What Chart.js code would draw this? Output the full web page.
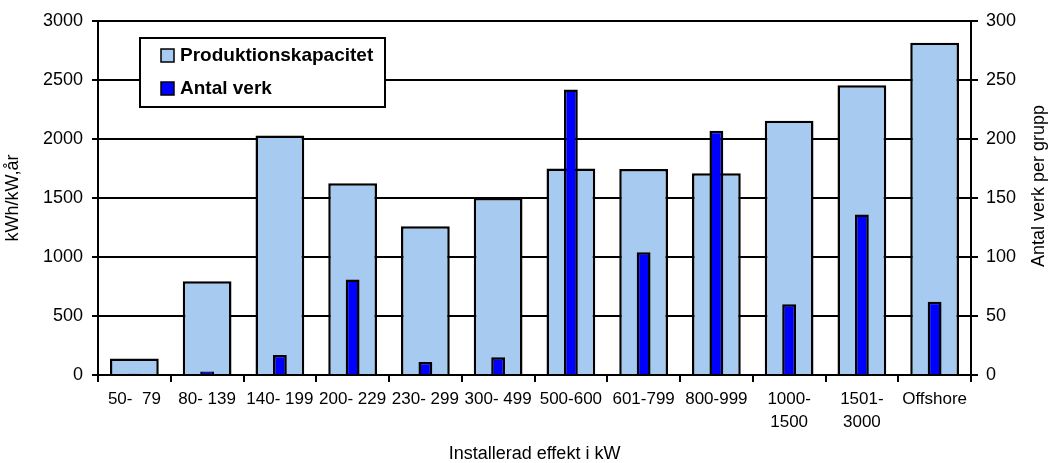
<!DOCTYPE html>
<html>
<head>
<meta charset="utf-8">
<script src="https://cdn.jsdelivr.net/npm/chart.js@4/dist/chart.umd.min.js"></script>
<style>
html, body { margin: 0; padding: 0; background: #fff; }
</style>
</head>
<body>
<canvas id="chart" width="1049" height="463"></canvas>
<script>
'use strict'

// grupper, installerad effekt i kW
const groups = ['50-  79', '80- 139', '140- 199', '200- 229', '230- 299', '300- 499',
    '500-600', '601-799', '800-999', ['1000-', '1500'], ['1501-', '3000'], 'Offshore'];
// produktionskapacitet, kWh/kW,år
const capacity = [140, 795, 2030, 1625, 1260, 1500, 1750, 1745, 1710, 2155, 2455, 2815];
// antal verk per grupp
const plants = [1, 3, 17, 81, 11, 15, 242, 104, 207, 60, 136, 62];
// axlar
const leftTicks = [0, 500, 1000, 1500, 2000, 2500, 3000];
const rightTicks = [0, 50, 100, 150, 200, 250, 300];

const FONT = '"Liberation Sans", Arial, sans-serif';

// legend i ruta + höger axeltitel
const boxLegend = {
    id: 'boxLegend',
    afterDraw(chart) {
        const ctx = chart.ctx;
        ctx.save();
        ctx.fillStyle = '#fff';
        ctx.strokeStyle = '#000';
        ctx.lineWidth = 2;
        ctx.fillRect(140, 38, 245, 69);
        ctx.strokeRect(140, 38, 245, 69);
        ctx.font = 'bold 19px ' + FONT;
        ctx.textBaseline = 'middle';
        chart.data.datasets.forEach((ds, i) => {
            const y = 55 + i * 33;
            ctx.fillStyle = ds.backgroundColor;
            ctx.fillRect(161, y - 6, 13, 13);
            ctx.lineWidth = 1.5;
            ctx.strokeRect(161, y - 6, 13, 13);
            ctx.fillStyle = '#000';
            ctx.fillText(ds.label, 180, y + 1);
        });

        ctx.translate(1039, 186);
        ctx.rotate(-Math.PI / 2);
        ctx.font = '18px ' + FONT;
        ctx.textAlign = 'center';
        ctx.fillText('Antal verk per grupp', 0, 0);
        ctx.restore();
    }
};

new Chart(document.getElementById('chart'), {
    type: 'bar',
    data: {
        labels: groups,
        datasets: [
            {
                label: 'Produktionskapacitet',
                data: capacity,
                yAxisID: 'y',
                backgroundColor: '#A6CAF0',
                borderColor: '#000',
                borderWidth: 2.5,
                barPercentage: 0.67,
                categoryPercentage: 1,
                grouped: false,
                order: 2
            },
            {
                label: 'Antal verk',
                data: plants,
                yAxisID: 'y2',
                backgroundColor: '#0000FF',
                borderColor: '#000',
                borderWidth: 2.5,
                barPercentage: 0.19,
                categoryPercentage: 1,
                grouped: false,
                order: 1
            }
        ]
    },
    options: {
        responsive: false,
        animation: false,
        devicePixelRatio: 1,
        layout: { padding: { top: 21, left: 0, right: 0, bottom: 0 } },
        plugins: {
            legend: { display: false },
            tooltip: { enabled: false }
        },
        scales: {
            x: {
                afterFit: (scale) => { scale.height = 88; },
                grid: { display: true, drawOnChartArea: false, offset: true, color: '#000', lineWidth: 2, tickLength: 7 },
                border: { display: true, color: '#000', width: 2 },
                ticks: { color: '#000', font: { family: FONT, size: 17, lineHeight: 1.35 }, padding: 6, maxRotation: 0, autoSkip: false },
                title: { display: true, text: 'Installerad effekt i kW', color: '#000', font: { family: FONT, size: 18 }, padding: { bottom: -2 } }
            },
            y: {
                position: 'left',
                min: leftTicks[0],
                max: leftTicks[leftTicks.length - 1],
                afterFit: (scale) => { scale.width = 98; },
                afterBuildTicks: (scale) => { scale.ticks = leftTicks.map(v => ({ value: v })); },
                grid: { color: '#000', lineWidth: 2, tickLength: 6 },
                border: { display: true, color: '#000', width: 2 },
                ticks: { color: '#000', font: { family: FONT, size: 18 }, padding: 9, callback: (v) => String(v) },
                title: { display: true, text: 'kWh/kW,år', color: '#000', font: { family: FONT, size: 18 }, padding: { top: 2 } }
            },
            y2: {
                position: 'right',
                min: rightTicks[0],
                max: rightTicks[rightTicks.length - 1],
                afterFit: (scale) => { scale.width = 78; },
                afterBuildTicks: (scale) => { scale.ticks = rightTicks.map(v => ({ value: v })); },
                grid: { drawOnChartArea: false, color: '#000', lineWidth: 2, tickLength: 7 },
                border: { display: true, color: '#000', width: 2 },
                ticks: { color: '#000', font: { family: FONT, size: 18 }, padding: 8, callback: (v) => String(v) }
            }
        }
    },
    plugins: [boxLegend]
});
</script>
</body>
</html>
